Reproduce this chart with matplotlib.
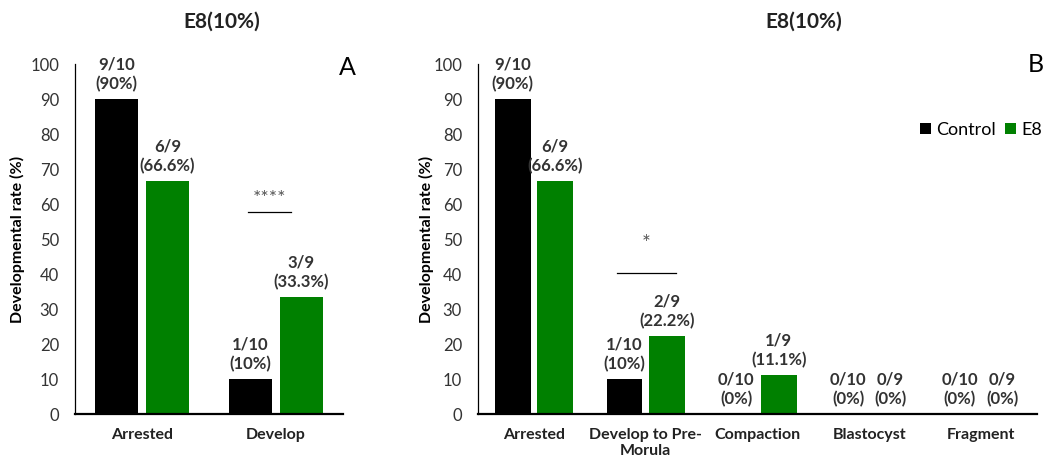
import numpy as np
import matplotlib.pyplot as plt

plt.rcParams['font.family'] = ['Lato', 'DejaVu Sans']

# panel A data
cats_a = ['Arrested', 'Develop']
ctrl_a = [90, 10]
e8_a = [66.6, 33.3]
ctrl_lab_a = ['9/10\n(90%)', '1/10\n(10%)']
e8_lab_a = ['6/9\n(66.6%)', '3/9\n(33.3%)']

# panel B data
cats_b = ['Arrested', 'Develop to Pre-\nMorula', 'Compaction', 'Blastocyst', 'Fragment']
ctrl_b = [90, 10, 0, 0, 0]
e8_b = [66.6, 22.2, 11.1, 0, 0]
ctrl_lab_b = ['9/10\n(90%)', '1/10\n(10%)', '0/10\n(0%)', '0/10\n(0%)', '0/10\n(0%)']
e8_lab_b = ['6/9\n(66.6%)', '2/9\n(22.2%)', '1/9\n(11.1%)', '0/9\n(0%)', '0/9\n(0%)']

black = '#000000'
green = '#008000'
txt = '#333333'
w = 0.32
off = 0.19
W, H = 1045, 465

fig = plt.figure(figsize=(10.45, 4.65), dpi=100)
axA = fig.add_axes([75 / W, 1 - 414 / H, 268 / W, 350 / H])
axB = fig.add_axes([478 / W, 1 - 414 / H, 559 / W, 350 / H])


def draw(ax, cats, ctrl, e8, cl, el, title_x):
    x = np.arange(len(cats))
    ax.bar(x - off, ctrl, w, color=black, label='Control')
    ax.bar(x + off, e8, w, color=green, label='E8')
    for i in range(len(cats)):
        ax.annotate(cl[i], (x[i] - off, ctrl[i]), xytext=(0, 5), textcoords='offset points',
                    ha='center', va='bottom', fontsize=12, fontweight='bold', color=txt,
                    linespacing=1.25, annotation_clip=False)
        ax.annotate(el[i], (x[i] + off, e8[i]), xytext=(0, 5), textcoords='offset points',
                    ha='center', va='bottom', fontsize=12, fontweight='bold', color=txt,
                    linespacing=1.25, annotation_clip=False)
    ax.set_ylim(0, 100)
    ax.set_xlim(-0.5, len(cats) - 0.5)
    ax.set_yticks(np.arange(0, 101, 10))
    ax.set_xticks(x)
    ax.set_xticklabels(cats, fontweight='bold', fontsize=11.5, color='#222222',
                       linespacing=1.2)
    ax.tick_params(axis='y', length=0, labelsize=12, colors='#333333', pad=11.5)
    ax.tick_params(axis='x', length=0, pad=10)
    for s in ['top', 'right']:
        ax.spines[s].set_visible(False)
    ax.spines['left'].set_linewidth(0.9)
    ax.spines['bottom'].set_linewidth(1.6)
    ax.set_ylabel('Developmental rate (%)', fontweight='bold', fontsize=11.5)
    ax.text(title_x, 1.12, 'E8(10%)', transform=ax.transAxes, ha='center', va='center',
            fontsize=15, fontweight='bold', color='#222222')


draw(axA, cats_a, ctrl_a, e8_a, ctrl_lab_a, e8_lab_a, 0.548)
axA.yaxis.set_label_coords(-0.185, 0.5)
axA.plot([0.79, 1.11], [57.7, 57.7], color='black', lw=0.9)
axA.text(0.95, 61.5, '****', ha='center', va='center', fontsize=14, color='#555555')
axA.text(1.53, 99, 'A', fontsize=18, ha='center', va='center', clip_on=False)

draw(axB, cats_b, ctrl_b, e8_b, ctrl_lab_b, e8_lab_b, 0.582)
axB.yaxis.set_label_coords(-0.078, 0.5)
axB.plot([0.745, 1.27], [40.3, 40.3], color='black', lw=0.9)
axB.text(1.0, 48.5, '*', ha='center', va='center', fontsize=15, color='#555555')
axB.text(4.415, 100, 'B', fontsize=18, ha='left', va='center', clip_on=False)
axB.legend(loc='center left', bbox_to_anchor=(920 / W, 1 - 130 / H),
           bbox_transform=fig.transFigure, ncol=2, frameon=False, borderpad=0,
           borderaxespad=0, handlelength=0.6, handleheight=0.6, handletextpad=0.3,
           columnspacing=0.5, fontsize=13)

fig.savefig('out.png', dpi=100)
